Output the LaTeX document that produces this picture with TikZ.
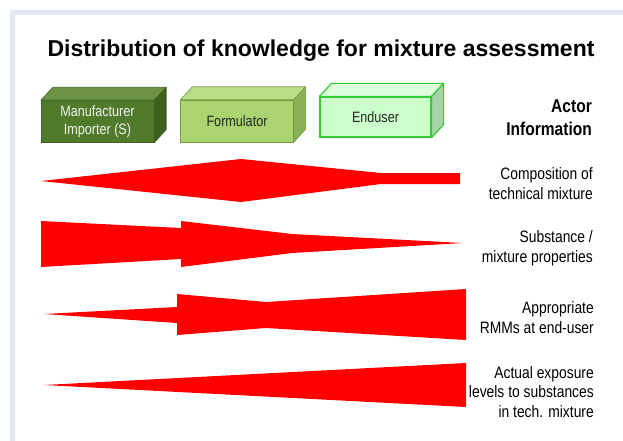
\documentclass[tikz,border=0pt]{standalone}
\usepackage{fontspec}
\setmainfont{Liberation Sans}
\newfontfamily\narrow[FakeStretch=0.84]{Liberation Sans}
\usepackage{tikz}
\usetikzlibrary{positioning}

\definecolor{framebg}{HTML}{E3E6F3}
\definecolor{bandred}{HTML}{FF0000}
\definecolor{mfgfront}{HTML}{4F7B2A}
\definecolor{mfgtop}{HTML}{6B9245}
\definecolor{mfgside}{HTML}{3D5F20}
\definecolor{mfgedge}{HTML}{3F6322}
\definecolor{formfront}{HTML}{A9D46F}
\definecolor{formtop}{HTML}{BADD88}
\definecolor{formside}{HTML}{89B256}
\definecolor{formedge}{HTML}{76993F}
\definecolor{endfront}{HTML}{CCFFCC}
\definecolor{endtop}{HTML}{DDFFDD}
\definecolor{endside}{HTML}{A8D2A8}
\definecolor{endedge}{HTML}{33CC33}

\tikzset{
  actorbox/.style={draw, minimum width=113pt, minimum height=42pt, inner sep=2pt,
    align=center, font=\narrow\fontsize{15}{17.5}\selectfont},
  infolabel/.style={anchor=east, align=right, inner sep=0pt,
    font=\narrow\fontsize{16.5}{19.5}\selectfont},
  band/.style={fill=bandred}
}

\begin{document}
\begin{tikzpicture}[x=1pt,y=-1pt]
\useasboundingbox (0,0) rectangle (623,441);
\fill[white] (0,0) rectangle (623,441);
\fill[framebg] (10,10) rectangle (623,15);
\fill[framebg] (10,10) rectangle (15,441);

\node[anchor=base, font=\bfseries\fontsize{23}{27}\selectfont] (title) at (321,57)
    {Distribution of knowledge for mixture assessment};

% actors
\node[actorbox, fill=mfgfront, draw=mfgedge, text=white!95!black] (mfg) at (97.5,121.5)
    {Manufacturer\\Importer (S)};
\node[actorbox, fill=formfront, draw=formedge, text=black!85] (form) at (237,121)
    {Formulator};
\node[actorbox, fill=endfront, draw=endedge, line width=1.2pt, text=black!85,
    minimum width=111pt, minimum height=40pt] (end) at (375.5,117) {Enduser};
\foreach \b/\w in {mfg/0.6pt, form/0.6pt, end/1.2pt}{
  \filldraw[fill=\b top, draw=\b edge, line width=\w, line join=round]
    (\b.north west) -- ([shift={(12,-13)}]\b.north west)
    -- ([shift={(12,-13)}]\b.north east) -- (\b.north east) -- cycle;
  \filldraw[fill=\b side, draw=\b edge, line width=\w, line join=round]
    (\b.north east) -- ([shift={(12,-13)}]\b.north east)
    -- ([shift={(12,-13)}]\b.south east) -- (\b.south east) -- cycle;
}

\node[anchor=east, align=right, inner sep=0pt,
    font=\narrow\bfseries\fontsize{18.5}{23}\selectfont] (actor) at (592,118)
    {Actor\\Information};

% knowledge bands
\fill[band] (41,181) -- (241,159) -- (381,173) -- (460,173) -- (460,184)
    -- (381,184) -- (241,202) -- cycle;
\fill[band] (41,221) -- (181,228) -- (181,221) -- (292,234) -- (463,243)
    -- (292,253) -- (181,267) -- (181,259) -- (41,267) -- cycle;
\fill[band] (44,314) -- (177,307) -- (177,294) -- (266,302) -- (466,289)
    -- (466,340) -- (266,328) -- (177,335) -- (177,323) -- cycle;
\fill[band] (44,385) -- (466,363) -- (466,407) -- cycle;

\node[infolabel] (comp) at (593,183.5) {Composition of\\technical mixture};
\node[infolabel] (props) at (593,248) {Substance /\\mixture properties};
\node[infolabel] (rmm) at (594,317.5) {Appropriate\\RMMs at end-user};
\node[infolabel] (expo) at (594,392) {Actual exposure\\levels to substances\\in tech. mixture};
\end{tikzpicture}
\end{document}
